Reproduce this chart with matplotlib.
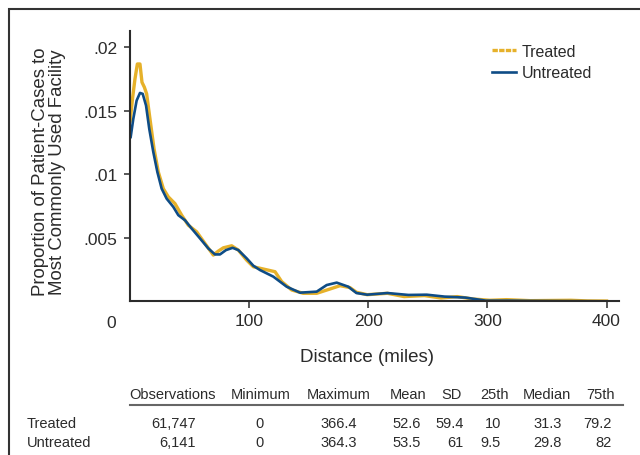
import matplotlib.pyplot as plt
from matplotlib.lines import Line2D
from matplotlib.patches import Rectangle

# distance (miles) and density readings
treated_x = [0, 2, 4, 6, 8.2, 9.9, 11.9, 13.8, 16.6, 20, 23.6, 27.8, 32, 37.6, 43.2,
             48.8, 55.8, 62.8, 69.8, 74, 78.2, 85.2, 90.8, 97.8, 103.4, 111.8, 121.6,
             127.2, 135.6, 145.3, 156.6, 167.8, 176.2, 184.5, 190, 199, 216, 230, 247,
             261, 274.7, 288, 302, 316, 336, 370, 384, 400]
treated_y = [0.0142, 0.0160, 0.0175, 0.01868, 0.01868, 0.01724, 0.01685, 0.01633, 0.01436,
             0.01201, 0.01018, 0.00887, 0.00822, 0.00769, 0.00678, 0.00599, 0.00547,
             0.00455, 0.00364, 0.00395, 0.00421, 0.00437, 0.00403, 0.00324, 0.00272,
             0.00254, 0.00233, 0.00155, 0.00089, 0.00063, 0.00063, 0.00097, 0.00123,
             0.00108, 0.00071, 0.00052, 0.00063, 0.00037, 0.00045, 0.00026, 0.00037,
             0.00018, 0.00008, 0.00013, 0.00005, 0.00008, 0.00003, 0.00002]

untreated_x = [0.4, 2.6, 5.4, 8.2, 10.5, 13.3, 16, 19.4, 22.8, 26.4, 30.6, 36.2, 40.4,
               46, 51.6, 58.6, 65.6, 71.2, 75.4, 80.4, 86, 90.8, 97.8, 103.4, 109, 120.2,
               131.4, 142.6, 156.6, 165, 173.4, 183.1, 190, 199, 216, 233.6, 249, 264,
               281.5, 298.6, 319, 336, 400]
untreated_y = [0.01293, 0.01436, 0.0158, 0.0164, 0.01633, 0.01541, 0.01358, 0.01175,
               0.01018, 0.00887, 0.00808, 0.00743, 0.00678, 0.00638, 0.00573, 0.00495,
               0.00416, 0.00369, 0.00369, 0.00403, 0.00421, 0.00403, 0.00338, 0.0028,
               0.00246, 0.00194, 0.00115, 0.00068, 0.00076, 0.00128, 0.00147, 0.00115,
               0.00065, 0.00052, 0.00065, 0.0005, 0.00052, 0.00037, 0.00029, 0.00005,
               0.00005, 0.00003, 0.0]

x_ticks = [100, 200, 300, 400]
y_ticks = [0.005, 0.01, 0.015, 0.02]
y_tick_labels = ['.005', '.01', '.015', '.02']

columns = ['Observations', 'Minimum', 'Maximum', 'Mean', 'SD', '25th', 'Median', '75th']
row_names = ['Treated', 'Untreated']
treated_stats = ['61,747', '0', '366.4', '52.6', '59.4', '10', '31.3', '79.2']
untreated_stats = ['6,141', '0', '364.3', '53.5', '61', '9.5', '29.8', '82']

gold = '#E6B12A'
blue = '#0E4C86'
dark = '#2b2b2b'
regular = ['Liberation Sans', 'DejaVu Sans']

fig = plt.figure(figsize=(6.4, 4.56), dpi=100)
W, H = 640.0, 456.0
ax = fig.add_axes([130.2 / W, 1 - 302.3 / H, (619.3 - 130.2) / W, (302.3 - 31.7) / H])

ax.plot(treated_x, treated_y, color=gold, lw=2.4, solid_joinstyle='round')
ax.plot(untreated_x, untreated_y, color=blue, lw=1.9, solid_joinstyle='round')

ax.set_xlim(0, 410.7)
ax.set_ylim(0, 0.0213)
ax.set_xticks(x_ticks)
ax.set_xticklabels([str(t) for t in x_ticks], family=regular, fontsize=12.5, color=dark)
ax.set_yticks(y_ticks)
ax.set_yticklabels(y_tick_labels, family=regular, fontsize=12.5, color=dark)
ax.tick_params(axis='x', length=5, width=1.1, color=dark, pad=3.5)
ax.tick_params(axis='y', length=4.3, width=1.1, color=dark, pad=5)
for side in ['top', 'right']:
    ax.spines[side].set_visible(False)
for side in ['left', 'bottom']:
    ax.spines[side].set_linewidth(1.5)
    ax.spines[side].set_color(dark)

# the "0" label sits left of the y axis
fig.text(111 / W, 1 - 323.7 / H, '0', ha='center', va='center',
         family=regular, fontsize=12.5, color=dark)

fig.text(49 / W, 1 - 172 / H, 'Proportion of Patient-Cases to\nMost Commonly Used Facility',
         rotation=90, ha='center', va='center', multialignment='center',
         family=regular, fontsize=13.4, color=dark, linespacing=1.05)

fig.text(367.5 / W, 1 - 357 / H, 'Distance (miles)', ha='center', va='center',
         family=regular, fontsize=13.5, color=dark)

handles = [Line2D([], [], color=gold, lw=2.4, linestyle=(0, (1.6, 0.4))),
           Line2D([], [], color=blue, lw=1.9)]
fig.legend(handles, ['Treated', 'Untreated'], loc='upper left',
           bbox_to_anchor=(492 / W, 1 - 45 / H), frameon=False, borderpad=0,
           borderaxespad=0, handlelength=1.5, handletextpad=0.35, labelspacing=0.4,
           prop={'family': regular, 'size': 11.5}, labelcolor=dark)

# summary table
header_x = [173, 261, 339, 408, 452, 494.5, 547, 600.5]
value_x = [196, 264, 357, 421, 464, 501, 562, 612]
for cx, name in zip(header_x, columns):
    fig.text(cx / W, 1 - 395 / H, name, ha='center', va='center',
             family=regular, fontsize=10.5, color=dark)
fig.add_artist(Line2D([130 / W, 623 / W], [1 - 406 / H, 1 - 406 / H],
                      color='#666666', lw=1.5))
for row_y, name, stats in zip([424, 443], row_names, [treated_stats, untreated_stats]):
    fig.text(26.7 / W, 1 - row_y / H, name, ha='left', va='center',
             family=regular, fontsize=10.5, color=dark)
    for rx, val in zip(value_x, stats):
        fig.text(rx / W, 1 - row_y / H, val, ha='right', va='center',
                 family=regular, fontsize=10.5, color=dark)

# frame around the panel (left and top edges visible)
fig.add_artist(Rectangle((9.3 / W, -0.1), 1.2, 0.1 + (1 - 10 / H),
                         transform=fig.transFigure, fill=False, lw=1.5,
                         edgecolor='#333333'))

fig.savefig('out.png', dpi=100)
